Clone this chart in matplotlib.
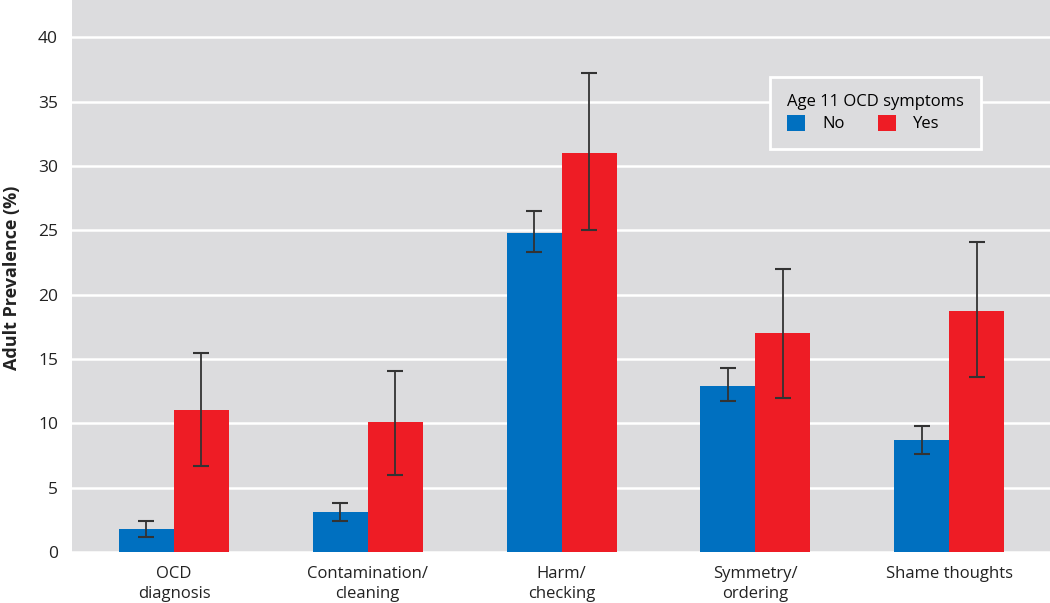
import matplotlib
matplotlib.use("Agg")
import matplotlib.pyplot as plt
import numpy as np

categories = ["OCD\ndiagnosis", "Contamination/\ncleaning", "Harm/\nchecking", "Symmetry/\nordering", "Shame thoughts"]
no_vals = [1.8, 3.1, 24.8, 12.9, 8.7]
no_low = [1.2, 2.4, 23.3, 11.7, 7.6]
no_high = [2.4, 3.8, 26.5, 14.3, 9.8]
yes_vals = [11.0, 10.1, 31.0, 17.0, 18.7]
yes_low = [6.7, 6.0, 25.0, 12.0, 13.6]
yes_high = [15.5, 14.1, 37.2, 22.0, 24.1]
yticks = [0, 5, 10, 15, 20, 25, 30, 35, 40]

plt.rcParams['font.family'] = ['Open Sans', 'DejaVu Sans']

fig = plt.figure(figsize=(10.5, 6.03), dpi=100)
ax = fig.add_axes([72/1050, 51/603, 978/1050, 552/603])
ax.set_facecolor('#DCDCDE')

x = np.arange(len(categories))
w = 0.284
blue = '#0070C0'
red = '#EE1C25'

no_err = [np.array(no_vals) - np.array(no_low), np.array(no_high) - np.array(no_vals)]
yes_err = [np.array(yes_vals) - np.array(yes_low), np.array(yes_high) - np.array(yes_vals)]

ax.bar(x - w/2, no_vals, w, color=blue, label='No', zorder=3,
       yerr=no_err, error_kw=dict(ecolor='#333333', elinewidth=1.3, capsize=6, capthick=1.5, zorder=4))
ax.bar(x + w/2, yes_vals, w, color=red, label='Yes', zorder=3,
       yerr=yes_err, error_kw=dict(ecolor='#333333', elinewidth=1.3, capsize=6, capthick=1.5, zorder=4))

ax.set_xlim(-0.526, 4.52)
ax.set_ylim(0, 42.9)
ax.set_yticks(yticks)
ax.set_xticks(x)
ax.set_xticklabels(categories, fontsize=12, color='#222222', linespacing=1.35)
ax.tick_params(axis='y', length=0, pad=10, labelsize=12.5, labelcolor='#222222')
ax.tick_params(axis='x', length=0, pad=10)
ax.yaxis.grid(True, color='white', linewidth=1.8, zorder=0)
ax.set_axisbelow(True)
for s in ax.spines.values():
    s.set_visible(False)

fig.text(12/1050, 1 - 278/603, 'Adult Prevalence (%)', rotation=90, ha='center', va='center',
         fontsize=13, fontweight='bold', color='#222222')

leg = ax.legend(title='Age 11 OCD symptoms', ncol=2, loc='upper left',
                bbox_to_anchor=(0.714, 0.8605), borderaxespad=0,
                frameon=True, fancybox=False, fontsize=12, title_fontsize=12,
                handlelength=1.1, handleheight=1.1, columnspacing=2.0,
                handletextpad=1.0, borderpad=1.0, labelspacing=0.3, alignment='left')
leg.get_frame().set_facecolor('#DCDCDE')
leg.get_frame().set_edgecolor('white')
leg.get_frame().set_linewidth(2)
leg.get_frame().set_alpha(1)

fig.savefig('out.png', dpi=100)
